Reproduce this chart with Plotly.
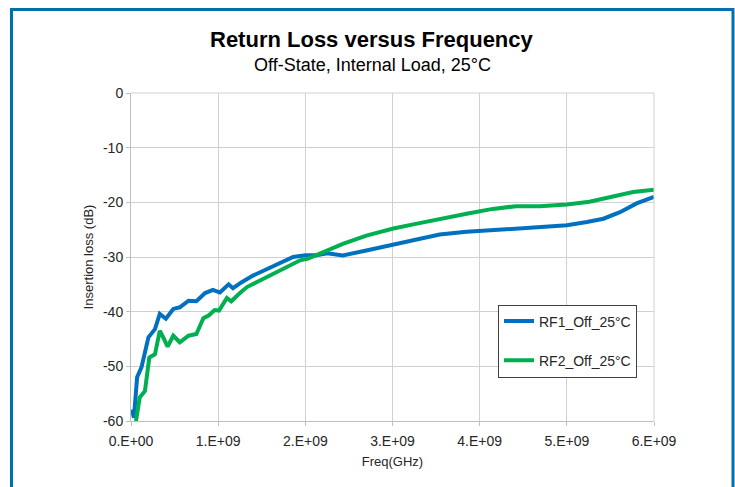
import plotly.graph_objects as go

# ---- data ----
rf1_freq_ghz = [0.008, 0.034, 0.07, 0.12, 0.2, 0.275, 0.33, 0.40, 0.485, 0.56, 0.66, 0.75,
                0.85, 0.94, 1.02, 1.12, 1.17, 1.27, 1.40, 1.56, 1.71, 1.86, 2.0, 2.13,
                2.25, 2.32, 2.43, 2.70, 3.01, 3.28, 3.54, 3.85, 4.15, 4.42, 4.69, 5.0,
                5.23, 5.42, 5.61, 5.80, 6.0]
rf1_db = [-57.9, -59.4, -52.0, -50.2, -44.7, -43.2, -40.4, -41.3, -39.5, -39.2, -38.0, -38.1,
          -36.6, -36.0, -36.5, -35.0, -35.7, -34.6, -33.4, -32.2, -31.0, -30.0, -29.7, -29.7,
          -29.3, -29.5, -29.7, -28.8, -27.7, -26.7, -25.9, -25.4, -25.1, -24.8, -24.6, -24.2,
          -23.6, -23.0, -21.8, -20.2, -19.0]

rf2_freq_ghz = [0.057, 0.10, 0.16, 0.21, 0.275, 0.33, 0.37, 0.42, 0.485, 0.56, 0.66, 0.75,
                0.83, 0.89, 0.96, 1.01, 1.10, 1.15, 1.25, 1.33, 1.48, 1.63, 1.79, 1.94,
                2.03, 2.17, 2.43, 2.70, 3.01, 3.28, 3.54, 3.85, 4.15, 4.42, 4.69, 5.0,
                5.26, 5.53, 5.76, 6.0]
rf2_db = [-60.0, -55.7, -54.5, -48.4, -47.8, -43.5, -44.7, -46.4, -44.4, -45.6, -44.4, -44.1,
          -41.2, -40.7, -39.7, -39.8, -37.5, -38.1, -36.6, -35.5, -34.3, -33.1, -31.9, -30.6,
          -30.3, -29.4, -27.6, -26.1, -24.8, -23.9, -23.0, -22.1, -21.2, -20.7, -20.7, -20.4,
          -19.9, -19.0, -18.1, -17.7]

series_names = ["RF1_Off_25°C", "RF2_Off_25°C"]
x_tick_vals = [0, 1e9, 2e9, 3e9, 4e9, 5e9, 6e9]
x_tick_text = ["0.E+00", "1.E+09", "2.E+09", "3.E+09", "4.E+09", "5.E+09", "6.E+09"]
y_tick_vals = [0, -10, -20, -30, -40, -50, -60]
y_tick_text = ["0", "-10", "-20", "-30", "-40", "-50", "-60"]

FONT = "Liberation Sans, Arial, sans-serif"

fig = go.Figure()
fig.add_trace(go.Scatter(x=[f * 1e9 for f in rf1_freq_ghz], y=rf1_db, mode="lines",
                         name=series_names[0], legendgroup="a",
                         line=dict(color="#0070C0", width=4)))
fig.add_trace(go.Scatter(x=[f * 1e9 for f in rf2_freq_ghz], y=rf2_db, mode="lines",
                         name=series_names[1], legendgroup="b",
                         line=dict(color="#00B050", width=4)))

L, R, T, B = 131, 81, 93, 66
W, H = 735, 487
pw, ph = W - L - R, H - T - B

def px2x(px):
    return (px - L) / pw

def py2y(py):
    return (H - B - py) / ph

fig.update_layout(
    width=W, height=H,
    margin=dict(l=L, r=R, t=T, b=B),
    paper_bgcolor="white", plot_bgcolor="white",
    font=dict(family=FONT, size=13, color="#262626"),
    showlegend=True,
    legend=dict(
        x=px2x(498), y=py2y(304.5), xanchor="left", yanchor="top",
        bordercolor="#404040", borderwidth=1, bgcolor="white",
        font=dict(family=FONT, size=14, color="#262626"),
        traceorder="grouped", tracegroupgap=18, itemwidth=30,
    ),
    xaxis=dict(
        range=[0, 6e9], tickvals=x_tick_vals, ticktext=x_tick_text,
        showgrid=True, gridcolor="#D0D0D0", gridwidth=1,
        showline=True, linecolor="#BFBFBF", linewidth=1,
        ticks="outside", ticklen=4, tickcolor="#BFBFBF",
        ticklabelstandoff=3,
        tickfont=dict(family=FONT, size=14, color="#262626"),
        title=dict(text="Freq(GHz)", font=dict(family=FONT, size=13, color="#262626"), standoff=9),
        zeroline=False, mirror=False,
    ),
    yaxis=dict(
        range=[-60, 0], tickvals=y_tick_vals, ticktext=y_tick_text,
        showgrid=True, gridcolor="#D0D0D0", gridwidth=1,
        showline=True, linecolor="#BFBFBF", linewidth=1,
        ticks="outside", ticklen=4, tickcolor="#BFBFBF",
        tickfont=dict(family=FONT, size=14, color="#262626"),
        title=dict(text="Insertion loss (dB)", font=dict(family=FONT, size=13, color="#262626"), standoff=6),
        zeroline=False,
    ),
    annotations=[
        dict(text="<b>Return Loss versus Frequency</b>", xref="paper", yref="paper",
             x=px2x(372), y=py2y(40), xanchor="center", yanchor="middle", showarrow=False,
             font=dict(family=FONT, size=22, color="#000000")),
        dict(text="Off-State, Internal Load, 25°C", xref="paper", yref="paper",
             x=px2x(372), y=py2y(65), xanchor="center", yanchor="middle", showarrow=False,
             font=dict(family=FONT, size=18, color="#000000")),
    ],
    shapes=[
        dict(type="rect", xref="paper", yref="paper",
             x0=px2x(11.5), x1=px2x(733), y0=py2y(500), y1=py2y(9.5),
             line=dict(color="#0070B0", width=3), fillcolor="rgba(0,0,0,0)", layer="below"),
        dict(type="line", xref="paper", yref="paper", x0=1, x1=1, y0=0, y1=1,
             line=dict(color="#D0D0D0", width=1)),
        dict(type="line", xref="paper", yref="paper", x0=0, x1=1, y0=1, y1=1,
             line=dict(color="#D0D0D0", width=1)),
    ],
)

fig.write_html("out.html",
               config={"displayModeBar": False},
               post_script="document.body.style.margin='0';document.body.style.overflow='hidden';")
